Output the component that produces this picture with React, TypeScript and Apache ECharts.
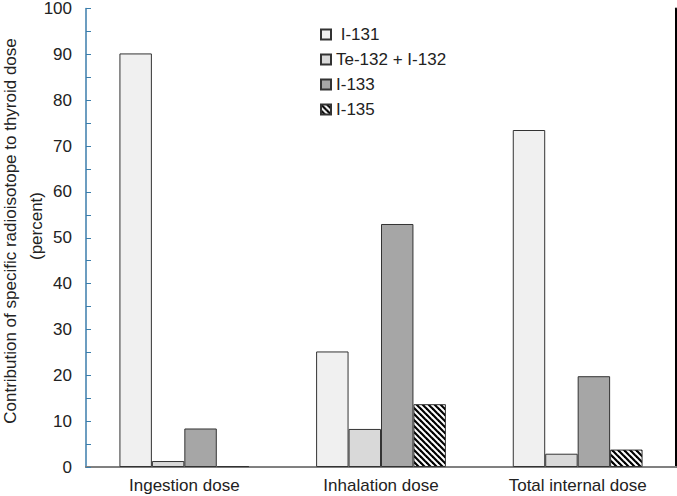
import React, { useEffect, useRef } from "react";
import * as echarts from "echarts";

const categories = ["Ingestion dose", "Inhalation dose", "Total internal dose"];
const seriesNames = [" I-131", "Te-132 + I-132", "I-133", "I-135"];
const i131 = [90.2, 25.2, 73.5];
const te132i132 = [1.3, 8.3, 2.9];
const i133 = [8.4, 53.0, 19.8];
const i135 = [0.2, 13.7, 3.8];
const yTicks = { min: 0, max: 100, interval: 10 };

function makeHatch() {
  const s = 6;
  const c = document.createElement("canvas");
  c.width = s;
  c.height = s;
  const ctx = c.getContext("2d")!;
  ctx.fillStyle = "#ffffff";
  ctx.fillRect(0, 0, s, s);
  ctx.strokeStyle = "#000000";
  ctx.lineWidth = 2.2;
  for (let k = -1; k <= 1; k++) {
    ctx.beginPath();
    ctx.moveTo(k * s - 1, -1);
    ctx.lineTo(k * s + s + 1, s + 1);
    ctx.stroke();
  }
  return c;
}

export default function App() {
  const ref = useRef<HTMLDivElement>(null);
  useEffect(() => {
    if (!ref.current) return;
    const chart = echarts.init(ref.current, null, { renderer: "svg" });
    const hatch = makeHatch();
    const font = "'Liberation Sans', Arial, sans-serif";
    const border = { borderColor: "#333333", borderWidth: 1 };
    const fills: any[] = [
      "#f0f0f0",
      "#d9d9d9",
      "#a6a6a6",
      { image: hatch, repeat: "repeat" },
    ];
    const datasets = [i131, te132i132, i133, i135];
    chart.setOption({
      animation: false,
      backgroundColor: "#ffffff",
      textStyle: { fontFamily: font },
      grid: { left: 86, right: 1, top: 7, bottom: 29 },
      legend: {
        left: 315,
        top: 21,
        orient: "vertical",
        icon: "rect",
        itemWidth: 10,
        itemHeight: 10,
        itemGap: 8,
        textStyle: { fontSize: 17, color: "#222", fontFamily: font },
        data: seriesNames,
      },
      xAxis: [
        {
          type: "category",
          data: categories,
          axisLine: { lineStyle: { color: "#555555", width: 1.5 } },
          axisTick: { show: false },
          axisLabel: { fontSize: 17, color: "#222", margin: 10, fontFamily: font },
        },
        {
          type: "category",
          position: "top",
          data: categories,
          axisLine: { lineStyle: { color: "#808080", width: 2 } },
          axisTick: { show: false },
          axisLabel: { show: false },
        },
      ],
      yAxis: [
        {
          type: "value",
          min: yTicks.min,
          max: yTicks.max,
          interval: yTicks.interval,
          axisLine: { show: true, lineStyle: { color: "#3b7dab", width: 1.5 } },
          axisTick: { show: true, inside: true, length: 5, lineStyle: { color: "#3b7dab" } },
          minorTick: { show: true, splitNumber: 2, length: 5, lineStyle: { color: "#3b7dab" } },
          splitLine: { show: false },
          axisLabel: { fontSize: 17, color: "#222", margin: 14, fontFamily: font },
        },
        {
          type: "value",
          position: "right",
          min: yTicks.min,
          max: yTicks.max,
          interval: yTicks.interval,
          axisLine: { show: true, lineStyle: { color: "#000000", width: 2 } },
          axisTick: { show: false },
          splitLine: { show: false },
          axisLabel: { show: false },
        },
      ],
      graphic: [
        {
          type: "text",
          x: 10,
          y: 231,
          rotation: Math.PI / 2,
          style: {
            text: "Contribution of specific radioisotope to thyroid dose",
            fontSize: 17,
            fontFamily: font,
            fill: "#222",
            align: "center",
            verticalAlign: "middle",
          },
        },
        {
          type: "text",
          x: 36,
          y: 226,
          rotation: Math.PI / 2,
          style: {
            text: "(percent)",
            fontSize: 17,
            fontFamily: font,
            fill: "#222",
            align: "center",
            verticalAlign: "middle",
          },
        },
      ],
      series: seriesNames.map((name, i) => ({
        name,
        type: "bar",
        data: datasets[i],
        barGap: "0%",
        barCategoryGap: "34%",
        itemStyle: { color: fills[i], ...border },
      })),
    });
    return () => chart.dispose();
  }, []);
  return <div ref={ref} style={{ width: 677, height: 496, position: "absolute", left: 0, top: 0 }} />;
}
